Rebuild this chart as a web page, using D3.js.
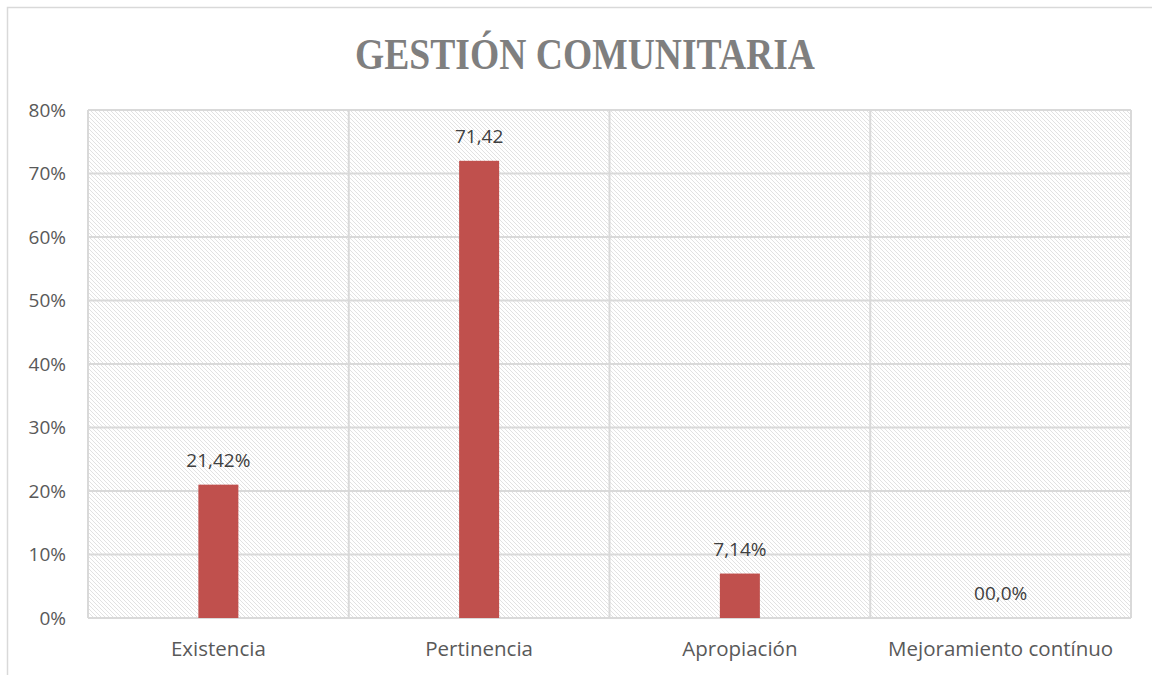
<html>
<head>
    <meta charset="utf-8">
    <script src="https://d3js.org/d3.v7.min.js"></script>
    <style>
        body { margin: 0; background: #fff; }
    </style>
</head>
<body>
<svg id="chart" width="1152" height="675"></svg>
<script>
    // data
    const categories = ["Existencia", "Pertinencia", "Apropiación", "Mejoramiento contínuo"];
    const values = [0.21, 0.72, 0.07, 0.0];
    const labels = ["21,42%", "71,42", "7,14%", "00,0%"];
    const yTicks = [0, 0.1, 0.2, 0.3, 0.4, 0.5, 0.6, 0.7, 0.8];

    const svg = d3.select("svg#chart");
    const margin = { top: 110, right: 21, bottom: 57, left: 88 };
    const width = +svg.attr("width");
    const height = +svg.attr("height");
    const sans = "'Open Sans', 'Noto Sans', sans-serif";

    // outer chart border
    svg.append("rect")
        .attr("x", 7.5).attr("y", 7.5)
        .attr("width", 1160).attr("height", 700)
        .attr("fill", "#fff").attr("stroke", "#d9d9d9").attr("stroke-width", 1.5);

    // hatch pattern for plot area
    const defs = svg.append("defs");
    const pat = defs.append("pattern")
        .attr("id", "hatch")
        .attr("patternUnits", "userSpaceOnUse")
        .attr("width", 4).attr("height", 4);
    pat.append("rect").attr("width", 4).attr("height", 4).attr("fill", "#fff");
    pat.append("path")
        .attr("d", "M-1,-1 L5,5 M-1,3 L1,5 M3,-1 L5,1")
        .attr("stroke", "#e2e2e2").attr("stroke-width", 1);

    const x = d3.scaleBand().domain(categories)
        .range([margin.left, width - margin.right]);
    const y = d3.scaleLinear().domain([0, 0.8])
        .range([height - margin.bottom, margin.top]);

    svg.append("rect")
        .attr("x", margin.left).attr("y", margin.top)
        .attr("width", x.range()[1] - margin.left)
        .attr("height", y(0) - margin.top)
        .attr("fill", "url(#hatch)");

    // horizontal gridlines
    svg.append("g").selectAll("line").data(yTicks)
        .join("line")
        .attr("x1", margin.left).attr("x2", x.range()[1])
        .attr("y1", d => y(d)).attr("y2", d => y(d))
        .attr("stroke", "#d9d9d9").attr("stroke-width", 2);

    // vertical category separators
    const seps = categories.map(c => x(c)).concat([x.range()[1]]);
    svg.append("g").selectAll("line").data(seps)
        .join("line")
        .attr("x1", d => d).attr("x2", d => d)
        .attr("y1", margin.top).attr("y2", y(0))
        .attr("stroke", "#d9d9d9").attr("stroke-width", 2);

    // y axis labels
    svg.append("g").selectAll("text").data(yTicks)
        .join("text")
        .attr("x", 66).attr("y", d => y(d))
        .attr("dy", "0.35em")
        .attr("text-anchor", "end")
        .attr("font-family", sans)
        .attr("font-size", 19).attr("fill", "#595959")
        .text(d3.format(".0%"));

    // x axis labels
    svg.append("g").selectAll("text").data(categories)
        .join("text")
        .attr("x", d => x(d) + x.bandwidth() / 2)
        .attr("y", 656)
        .attr("text-anchor", "middle")
        .attr("font-family", sans)
        .attr("font-size", 20.5).attr("fill", "#595959")
        .text(d => d);

    // bars
    const barW = 40;
    svg.append("g").selectAll("rect").data(values)
        .join("rect")
        .attr("x", (d, i) => x(categories[i]) + x.bandwidth() / 2 - barW / 2)
        .attr("y", d => y(d))
        .attr("width", barW)
        .attr("height", d => y(0) - y(d))
        .attr("fill", "#c0504d");

    // data labels
    svg.append("g").selectAll("text").data(values)
        .join("text")
        .attr("x", (d, i) => x(categories[i]) + x.bandwidth() / 2)
        .attr("y", d => y(d) - 18)
        .attr("text-anchor", "middle")
        .attr("font-family", sans)
        .attr("font-size", 19).attr("fill", "#404040")
        .text((d, i) => labels[i]);

    // title
    svg.append("text")
        .attr("x", 585).attr("y", 69)
        .attr("text-anchor", "middle")
        .attr("font-family", "'Liberation Serif', 'DejaVu Serif', serif")
        .attr("font-weight", "bold")
        .attr("font-size", 44)
        .attr("textLength", 460)
        .attr("lengthAdjust", "spacingAndGlyphs")
        .attr("fill", "#7f7f7f")
        .text("GESTIÓN COMUNITARIA");
</script>
</body>
</html>
